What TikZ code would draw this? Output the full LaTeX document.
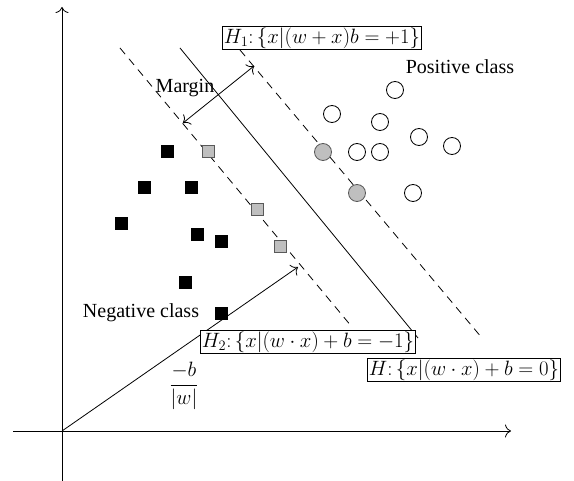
\documentclass[tikz,border=0pt]{standalone}
\usepackage{fontspec}
\setmainfont{Liberation Serif}
\usetikzlibrary{arrows.meta}
\begin{document}
\begin{tikzpicture}[x=1pt,y=-1pt, line width=0.8pt,
  negpt/.style={draw=black, fill=black, minimum size=12pt, inner sep=0pt},
  negsv/.style={draw=black!65, fill=black!25, minimum size=12pt, inner sep=0pt, line width=1pt},
  pospt/.style={circle, draw=black, fill=white, minimum size=17pt, inner sep=0pt},
  possv/.style={circle, draw=black!65, fill=black!25, minimum size=17pt, inner sep=0pt},
  eqbox/.style={draw, fill=white, inner sep=1.5pt, font=\fontsize{21}{23}\selectfont},
  lbl/.style={font=\fontsize{20}{22}\selectfont, inner sep=0pt},
  hyp/.style={dash pattern=on 8pt off 6pt},
  tip/.style={-{To[length=6pt,width=13pt]}},
  dtip/.style={{To[length=6pt,width=13pt]}-{To[length=6pt,width=13pt]}}
]
\useasboundingbox (0,0) rectangle (574,481);
% axes
\coordinate (O) at (62,431);
\coordinate (xl) at (13,431);
\coordinate (xr) at (511,431);
\coordinate (yb) at (62,481);
\coordinate (yt) at (62,7);
\draw[tip] (xl) -- (xr);
\draw[tip] (yb) -- (yt);
% hyperplanes
\coordinate (h2a) at (120,48);
\coordinate (h2b) at (352,327);
\coordinate (ha) at (180,48);
\coordinate (hb) at (418,338);
\coordinate (h1a) at (240,50);
\coordinate (h1b) at (482,338);
\draw[hyp] (h2a) -- (h2b);
\draw (ha) -- (hb);
\draw[hyp] (h1a) -- (h1b);
% w vector
\coordinate (wt) at (298,267);
\draw[tip] (O) -- (wt);
% margin
\coordinate (m1) at (183,123);
\coordinate (m2) at (254,66);
\draw[dtip] (m1) -- (m2);
\node[lbl] (margin) at (185,88) {Margin};
% negative class
\node[negpt] (n1) at (167,151) {};
\node[negpt] (n2) at (144,187) {};
\node[negpt] (n3) at (191,187) {};
\node[negpt] (n4) at (121,223) {};
\node[negpt] (n5) at (197,234) {};
\node[negpt] (n6) at (221,241) {};
\node[negpt] (n7) at (185,282) {};
\node[negpt] (n8) at (221,313) {};
\node[negsv] (s1) at (208,152) {};
\node[negsv] (s2) at (257,210) {};
\node[negsv] (s3) at (280,247) {};
% positive class
\node[pospt] (p1) at (395,90) {};
\node[pospt] (p2) at (332,114) {};
\node[pospt] (p3) at (380,122) {};
\node[pospt] (p4) at (419,137) {};
\node[pospt] (p5) at (452,146) {};
\node[pospt] (p6) at (357,152) {};
\node[pospt] (p7) at (380,152) {};
\node[pospt] (p8) at (413,193) {};
\node[possv] (q1) at (323,152) {};
\node[possv] (q2) at (357,193) {};
% labels
\node[lbl] (poscl) at (460,67) {Positive class};
\node[lbl] (negcl) at (141,313) {Negative class};
\node[eqbox] (eqH1) at (322,38) {$H_1\colon \{x|(w+x)b=+1\}$};
\node[eqbox] (eqH2) at (308,342) {$H_2\colon \{x|(w\cdot x)+b=-1\}$};
\node[eqbox] (eqH) at (464,370) {$H\colon \{x|(w\cdot x)+b=0\}$};
\node[lbl] (frac) at (184,386) {\fontsize{21}{23}\selectfont$\displaystyle\frac{-b}{|w|}$};
\end{tikzpicture}
\end{document}
